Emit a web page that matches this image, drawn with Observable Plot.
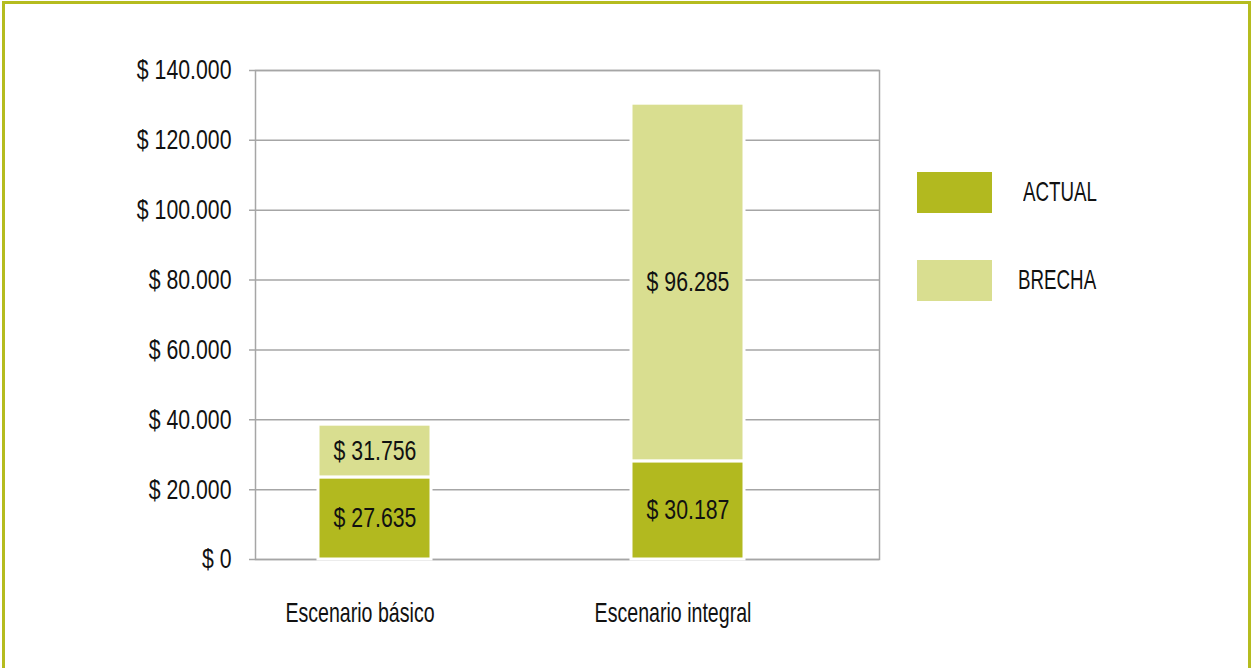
<!DOCTYPE html>
<html>
<head>
<meta charset="utf-8">
<script src="https://cdn.jsdelivr.net/npm/d3@7"></script>
<script src="https://cdn.jsdelivr.net/npm/@observablehq/plot@0.6"></script>
<style>
  html, body { margin: 0; padding: 0; background: #fff; }
  body { width: 1251px; height: 668px; overflow: hidden; position: relative;
         font-family: "Liberation Sans", Arial, sans-serif; }
  #frame { position: absolute; left: 2px; top: 1px; width: 1249px; height: 670px;
           border: 3px solid #b5bc1f; border-bottom-color: #f4f5e4; box-sizing: border-box; pointer-events: none; }
  #chart { position: absolute; left: 0; top: 0; }
  .leg { position: absolute; font-size: 28px; color: #111; transform: scaleX(0.67); transform-origin: left center; white-space: nowrap; }
  .sw { position: absolute; width: 75px; height: 41px; }
</style>
</head>
<body>
<div id="chart"></div>
<div id="legend"></div>
<div id="frame"></div>
<script>
// Categories and series
const categories = ["Escenario básico", "Escenario integral"];
const seriesNames = ["ACTUAL", "BRECHA"];
const seriesColors = ["#b2b91f", "#d9de90"];
// Bar segment heights as drawn in the picture
const actualBar = [23500, 28100];
const brechaBar = [15100, 102400];
// Values printed in the data labels
const actualLabel = [27635, 30187];
const brechaLabel = [31756, 96285];
// Y axis ticks
const yTicks = [0, 20000, 40000, 60000, 80000, 100000, 120000, 140000];

const fmt = d3.formatLocale({decimal: ",", thousands: ".", grouping: [3], currency: ["$", ""]}).format(",.0f");
const money = v => "$ " + fmt(v);

const rows = [];
categories.forEach((c, i) => {
  rows.push({cat: c, series: "ACTUAL", value: actualBar[i], label: money(actualLabel[i])});
  rows.push({cat: c, series: "BRECHA", value: brechaBar[i], label: money(brechaLabel[i])});
});

const font = "Liberation Sans, Arial, sans-serif";

const chart = Plot.plot({
  width: 1251,
  height: 668,
  marginLeft: 255,
  marginRight: 372,
  marginTop: 70,
  marginBottom: 109,
  style: {fontFamily: font, fontSize: "28px", color: "#111", background: "transparent"},
  x: {domain: categories, range: [317.5, 744.5], paddingInner: 0.64, paddingOuter: 0, label: null},
  y: {domain: [0, 140000], label: null},
  color: {domain: seriesNames, range: seriesColors},
  marks: [
    Plot.ruleY(yTicks, {stroke: "#a6a6a6", strokeWidth: 1.5, strokeOpacity: 1, insetLeft: -6}),
    Plot.frame({stroke: "#a6a6a6", strokeWidth: 1.5}),
    Plot.barY(rows, {x: "cat", y: "value", z: "series", fill: "series", stroke: "#fff", strokeWidth: 3,
                     order: seriesNames}),
    Plot.text(rows, Plot.stackY({x: "cat", y: "value", z: "series", text: "label", order: seriesNames,
                     fontSize: 28, fill: "#111"})),
    Plot.axisY({ticks: yTicks, tickFormat: money, tickSize: 0, tickPadding: 24,
                fontSize: 28, fill: "#111", label: null}),
    Plot.axisX({tickSize: 0, tickPadding: 43, fontSize: 28, fill: "#111", dx: -15, label: null})
  ]
});
document.getElementById("chart").appendChild(chart);

// Condense the text horizontally (the reference uses a condensed typeface)
d3.select(chart).selectAll("text").each(function () {
  const el = this;
  const s = /^\$/.test(el.textContent.trim()) ? 0.76 : 0.70;
  const t = el.getAttribute("transform") || "";
  const x = +(el.getAttribute("x") || 0);
  if (el.hasAttribute("x")) el.removeAttribute("x");
  el.setAttribute("transform", `${t} translate(${x},0) scale(${s},1)`);
});

// Legend
const legend = document.getElementById("legend");
const legendTop = [172, 260];
const legendTextLeft = [1023, 1018];
seriesNames.forEach((s, i) => {
  const sw = document.createElement("div");
  sw.className = "sw";
  sw.style.left = "917px";
  sw.style.top = legendTop[i] + "px";
  sw.style.background = seriesColors[i];
  legend.appendChild(sw);
  const t = document.createElement("div");
  t.className = "leg";
  t.textContent = s;
  t.style.left = legendTextLeft[i] + "px";
  t.style.top = (legendTop[i] + 20 - 16) + "px";
  t.style.lineHeight = "32px";
  legend.appendChild(t);
});
</script>
</body>
</html>
